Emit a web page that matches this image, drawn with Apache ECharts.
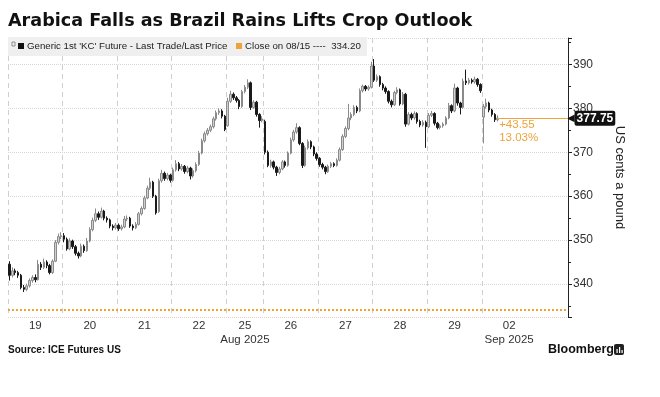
<!DOCTYPE html>
<html>
<head>
<meta charset="utf-8">
<script src="https://cdn.jsdelivr.net/npm/echarts@6.0.0/dist/echarts.min.js"></script>
<style>
html, body { margin: 0; padding: 0; background: #fff; }
#chart { width: 660px; height: 397px; }
</style>
</head>
<body>
<div id="chart"></div>
<script>
// trading days shown on the x axis, and how many 30 min slots each takes
var days = ['19', '20', '21', '22', '25', '26', '27', '28', '29', '02'];
var dayBars = [19, 19, 19, 19, 13, 19, 19, 19, 19, 30];
var dayMonths = { '25': 'Aug 2025', '02': 'Sep 2025' };

// [open, close, low, high]
var candles = [
  // 19
  [344.5, 342.0, 340.8, 345.2], [342.0, 343.0, 341.5, 343.8], [343.0, 342.6, 342.0, 343.5],
  [342.6, 342.0, 341.4, 343.0], [342.0, 339.2, 338.8, 342.3], [339.2, 338.8, 338.2, 339.8],
  [338.8, 339.6, 338.4, 340.1], [339.6, 340.8, 339.2, 341.3], [340.8, 341.5, 340.3, 342.0],
  [341.5, 341.0, 340.4, 342.2], [341.0, 344.5, 340.8, 345.5], [344.5, 343.8, 343.2, 345.0],
  [343.8, 345.0, 343.4, 345.8], [345.0, 344.2, 343.6, 345.4], [344.2, 342.6, 342.2, 344.6],
  [342.6, 345.2, 342.3, 345.6], [345.2, 349.5, 345.0, 350.0], [349.5, 350.8, 349.0, 351.5],
  [350.8, 351.0, 350.2, 351.8],
  // 20
  [351.0, 350.2, 349.5, 351.6], [350.2, 348.0, 347.6, 350.6], [348.0, 349.8, 347.7, 350.4],
  [349.8, 348.5, 348.0, 350.1], [348.5, 347.0, 346.5, 348.9], [347.0, 346.4, 345.8, 347.4],
  [346.4, 348.6, 346.1, 349.2], [348.6, 347.6, 347.1, 349.0], [347.6, 349.8, 347.3, 350.5],
  [349.8, 352.4, 349.5, 352.9], [352.4, 354.5, 352.0, 355.1], [354.5, 356.0, 354.1, 357.2],
  [356.0, 355.2, 354.6, 356.5], [355.2, 356.6, 354.9, 357.4], [356.6, 355.0, 354.5, 356.9],
  [355.0, 354.6, 354.0, 355.4], [354.6, 353.2, 352.7, 354.9], [353.2, 352.8, 352.2, 353.6],
  [352.8, 353.4, 352.4, 353.9],
  // 21
  [353.4, 352.6, 352.1, 353.8], [352.6, 353.0, 352.2, 353.5], [353.0, 354.8, 352.7, 355.5],
  [354.8, 355.0, 354.3, 355.6], [355.0, 353.2, 352.8, 355.3], [353.2, 352.8, 352.2, 353.6],
  [352.8, 353.6, 352.5, 354.1], [353.6, 356.0, 353.3, 356.4], [356.0, 357.2, 355.6, 357.7],
  [357.2, 359.6, 356.9, 360.1], [359.6, 361.8, 359.3, 362.4], [361.8, 363.2, 361.4, 364.2],
  [363.2, 360.0, 359.6, 363.5], [360.0, 356.2, 355.8, 360.3], [356.5, 363.5, 356.2, 364.0],
  [363.5, 365.2, 363.1, 366.0], [365.2, 364.0, 363.5, 365.6], [364.0, 364.8, 363.6, 365.3],
  [364.8, 363.6, 363.1, 365.1],
  // 22
  [363.6, 366.0, 363.3, 366.5], [366.0, 367.4, 365.6, 368.2], [367.4, 366.2, 365.7, 367.8],
  [366.2, 366.8, 365.8, 367.3], [366.8, 365.6, 365.1, 367.1], [365.6, 366.4, 365.2, 366.9],
  [366.4, 364.6, 363.8, 366.7], [364.6, 365.8, 364.2, 366.3], [365.8, 367.2, 365.4, 367.7],
  [367.2, 369.8, 366.9, 370.3], [369.8, 372.6, 369.5, 373.1], [372.6, 374.2, 372.2, 374.7],
  [374.2, 375.0, 373.8, 375.5], [375.0, 375.8, 374.6, 376.3], [375.8, 377.6, 375.4, 378.1],
  [377.6, 379.0, 377.2, 379.5], [379.0, 379.4, 378.5, 380.0], [379.4, 378.2, 377.7, 379.8],
  [378.2, 375.2, 374.8, 378.5],
  // 25
  [376.0, 381.6, 375.8, 382.4], [381.6, 383.2, 381.2, 384.0], [383.2, 382.4, 381.9, 383.6],
  [382.4, 381.8, 381.3, 382.8], [381.8, 380.4, 379.8, 382.1], [380.4, 383.8, 380.1, 384.2],
  [383.8, 384.8, 383.4, 385.3], [384.8, 385.8, 384.4, 386.6], [385.8, 380.2, 379.6, 386.1],
  [380.2, 381.4, 379.9, 381.8], [381.4, 378.6, 378.1, 381.7], [378.6, 377.2, 375.6, 378.9],
  [377.2, 377.6, 376.8, 378.2],
  // 26
  [377.0, 370.0, 369.5, 377.4], [370.0, 367.0, 366.6, 370.4], [367.0, 367.8, 366.5, 368.3],
  [367.8, 366.6, 366.1, 368.1], [366.6, 365.4, 364.6, 366.9], [365.4, 366.2, 365.0, 366.7],
  [366.2, 367.8, 365.9, 368.2], [367.8, 367.0, 366.5, 368.1], [367.0, 369.8, 366.7, 370.2],
  [369.8, 372.8, 369.5, 373.3], [372.8, 374.6, 372.4, 375.1], [374.6, 375.6, 374.2, 376.6],
  [375.6, 372.0, 371.6, 375.9], [372.0, 367.0, 366.4, 372.3], [367.0, 371.0, 366.7, 371.5],
  [371.0, 372.4, 370.6, 372.9], [372.4, 371.2, 370.7, 372.7], [371.2, 369.6, 369.1, 371.5],
  [369.6, 368.6, 368.1, 370.0],
  // 27
  [368.6, 367.2, 366.7, 368.9], [367.2, 366.6, 366.1, 367.6], [366.6, 365.6, 365.0, 366.9],
  [365.6, 366.8, 365.3, 367.2], [366.8, 367.4, 366.4, 367.8], [367.4, 367.0, 366.6, 367.7],
  [367.0, 368.2, 366.7, 368.6], [368.2, 370.6, 367.9, 371.1], [370.6, 373.6, 370.3, 374.1],
  [373.6, 375.4, 373.2, 375.9], [375.4, 377.8, 375.0, 381.0], [377.8, 378.6, 377.3, 379.1],
  [378.6, 380.2, 378.2, 380.7], [380.2, 379.4, 378.9, 380.6], [379.4, 384.0, 379.1, 384.5],
  [384.0, 385.0, 383.6, 385.4], [385.0, 384.4, 383.9, 385.3], [384.4, 384.8, 384.0, 385.2],
  [384.8, 389.6, 384.5, 390.6],
  // 28
  [389.6, 386.4, 386.0, 391.2], [386.4, 387.2, 386.0, 387.7], [387.2, 385.4, 384.9, 387.5],
  [385.4, 384.6, 384.1, 385.8], [384.6, 383.8, 383.3, 385.0], [383.8, 381.6, 381.1, 384.1],
  [381.6, 380.8, 380.2, 382.0], [380.8, 383.6, 380.5, 384.0], [383.6, 384.2, 383.2, 384.8],
  [384.2, 381.0, 380.6, 384.5], [381.0, 383.2, 380.7, 383.7], [383.2, 376.4, 375.8, 383.5],
  [376.4, 378.6, 376.1, 379.1], [378.6, 377.8, 377.3, 379.0], [377.8, 378.8, 377.4, 379.3],
  [378.8, 377.0, 376.5, 379.1], [377.0, 376.2, 375.7, 377.4], [376.2, 376.8, 375.8, 377.3],
  [376.8, 375.8, 371.0, 377.2],
  // 29
  [375.8, 378.4, 375.5, 378.9], [378.4, 378.8, 378.0, 379.4], [378.8, 376.6, 376.1, 379.1],
  [376.6, 375.6, 375.2, 376.9], [375.6, 376.0, 375.2, 376.4], [376.0, 376.4, 375.6, 376.8],
  [376.4, 377.8, 376.1, 378.2], [377.8, 380.6, 377.5, 381.2], [380.6, 379.4, 378.9, 380.9],
  [379.4, 384.6, 379.1, 385.6], [384.6, 381.2, 380.6, 384.9], [381.2, 380.2, 378.6, 381.5],
  [380.2, 386.2, 379.9, 386.8], [386.2, 385.8, 385.3, 388.8], [385.8, 386.4, 385.4, 386.9],
  [386.4, 386.0, 385.6, 386.8], [386.0, 386.6, 385.6, 387.2], [386.6, 385.4, 384.9, 386.9],
  [385.4, 384.0, 383.5, 385.7],
  // 02
  [378.0, 380.4, 372.0, 381.0], [380.4, 381.2, 379.9, 382.2], [381.2, 379.6, 379.1, 381.5],
  [379.6, 378.6, 378.1, 379.9], [378.6, 377.4, 376.9, 378.9], [377.4, 377.75, 377.0, 378.4]
];

var closeRef = 334.20;
var lastPrice = 377.75;
var changeAbs = '+43.55';
var changePct = '13.03%';

var FONT = "'Liberation Sans', Arial, sans-serif";
var TITLE_FONT = "'DejaVu Sans', Verdana, sans-serif";
var ORANGE = '#eda23a';

// build the category slots, and remember where each day starts / is labelled
var categories = [];
var dayStart = {};
var dayLabel = {};
var idx = 0;
for (var d = 0; d < days.length; d++) {
  dayStart[idx] = true;
  dayLabel[idx + Math.floor(Math.min(dayBars[d], 19) / 2)] = days[d];
  for (var k = 0; k < dayBars[d]; k++) {
    categories.push(days[d] + '-' + k);
  }
  idx += dayBars[d];
}
var lastIdx = candles.length - 1;

var chart = echarts.init(document.getElementById('chart'), null, { renderer: 'canvas' });

var option = {
  animation: false,
  textStyle: { fontFamily: FONT },
  grid: { left: 8, right: 92, top: 38, bottom: 80 },
  xAxis: {
    type: 'category',
    data: categories,
    boundaryGap: true,
    axisLine: { show: false },
    axisTick: { show: false },
    axisLabel: {
      interval: function (i) { return dayLabel[i] !== undefined; },
      formatter: function (v, i) {
        var lbl = dayLabel[i];
        if (lbl === undefined) return '';
        return dayMonths[lbl] ? lbl + '\n' + dayMonths[lbl] : lbl;
      },
      color: '#333',
      fontSize: 11.5,
      lineHeight: 14,
      margin: 2
    },
    splitLine: {
      show: true,
      interval: function (i) { return dayStart[i] === true; },
      lineStyle: { color: '#cfcfcf', type: [5, 4], width: 1 }
    }
  },
  yAxis: {
    type: 'value',
    position: 'right',
    min: 332.5,
    max: 396,
    axisLine: { show: true, lineStyle: { color: '#222', width: 1 } },
    axisTick: { show: true, length: 4, lineStyle: { color: '#222' } },
    minorTick: { show: true, splitNumber: 2, length: 3, lineStyle: { color: '#222' } },
    axisLabel: {
      formatter: function (v) { return v % 10 === 0 ? String(v) : ''; },
      color: '#333',
      fontSize: 12,
      margin: 5
    },
    splitLine: { show: true, lineStyle: { color: '#d6d6d6', type: 'dotted' } },
    name: 'US cents a pound',
    nameLocation: 'middle',
    nameRotate: -90,
    nameGap: 45,
    nameTextStyle: { fontSize: 13, color: '#222' }
  },
  series: [{
    type: 'candlestick',
    data: candles,
    barWidth: 2,
    itemStyle: {
      color: '#d0d0d0',
      borderColor: '#8a8a8a',
      color0: '#1a1a1a',
      borderColor0: '#1a1a1a',
      borderWidth: 1
    },
    markLine: {
      silent: true,
      symbol: 'none',
      animation: false,
      data: [
        {
          yAxis: closeRef,
          label: { show: false },
          lineStyle: { color: ORANGE, type: 'dotted', width: 2 }
        },
        [
          { coord: [lastIdx, lastPrice] },
          {
            coord: [categories.length - 1, lastPrice],
            label: {
              show: true,
              position: 'end',
              distance: 0,
              formatter: '{a|◀}{b|' + lastPrice.toFixed(2) + '}',
              rich: {
                a: { color: '#111', fontSize: 10, padding: [0, 0, 0, 0] },
                b: {
                  color: '#fff', backgroundColor: '#111', fontSize: 12, fontWeight: 'bold',
                  padding: [2, 2, 1, 2], borderRadius: 2
                }
              }
            }
          }
        ]
      ],
      lineStyle: { color: ORANGE, type: 'solid', width: 1 }
    },
    markPoint: {
      silent: true,
      symbol: 'circle',
      symbolSize: 1,
      itemStyle: { color: 'rgba(0,0,0,0)' },
      data: [{ coord: [lastIdx, lastPrice] }],
      label: {
        show: true,
        position: [2, 1],
        formatter: changeAbs + '\n' + changePct,
        color: ORANGE,
        fontSize: 11.5,
        lineHeight: 13,
        align: 'left',
        verticalAlign: 'top'
      }
    }
  }],
  graphic: [
    {
      type: 'text', x: 8, y: 21,
      style: {
        text: 'Arabica Falls as Brazil Rains Lifts Crop Outlook',
        font: 'bold 17.6px ' + TITLE_FONT, fill: '#111', verticalAlign: 'middle'
      }
    },
    {
      type: 'rect', shape: { x: 8, y: 37, width: 359, height: 19 },
      style: { fill: '#efefef' }, z: 10
    },
    {
      type: 'rect', shape: { x: 12, y: 42, width: 3, height: 4 },
      style: { fill: 'none', stroke: '#777', lineWidth: 0.8 }, z: 11
    },
    {
      type: 'rect', shape: { x: 18, y: 43, width: 6, height: 6 },
      style: { fill: '#111' }, z: 11
    },
    {
      type: 'text', x: 27, y: 46.5, z: 11,
      style: {
        text: "Generic 1st 'KC' Future - Last Trade/Last Price",
        font: '9.7px ' + FONT, fill: '#222', verticalAlign: 'middle'
      }
    },
    {
      type: 'rect', shape: { x: 236, y: 43, width: 6, height: 6 },
      style: { fill: ORANGE }, z: 11
    },
    {
      type: 'text', x: 245, y: 46.5, z: 11,
      style: {
        text: 'Close on 08/15 ----  ' + closeRef.toFixed(2),
        font: '9.7px ' + FONT, fill: '#222', verticalAlign: 'middle'
      }
    },
    {
      type: 'text', left: 8, top: 345,
      style: { text: 'Source: ICE Futures US', font: 'bold 10px ' + FONT, fill: '#111' }
    },
    {
      type: 'text', x: 548, y: 350,
      style: { text: 'Bloomberg', font: 'bold 12.5px ' + FONT, fill: '#111', verticalAlign: 'middle' }
    },
    {
      type: 'rect', shape: { x: 614, y: 344, width: 10, height: 11, r: 2 },
      style: { fill: '#222' }
    },
    {
      type: 'rect', shape: { x: 616.5, y: 349, width: 1.2, height: 4 },
      style: { fill: '#fff' }
    },
    {
      type: 'rect', shape: { x: 619, y: 347, width: 1.2, height: 6 },
      style: { fill: '#fff' }
    },
    {
      type: 'rect', shape: { x: 621.5, y: 350, width: 1.2, height: 3 },
      style: { fill: '#fff' }
    }
  ]
};

chart.setOption(option);
</script>
</body>
</html>
